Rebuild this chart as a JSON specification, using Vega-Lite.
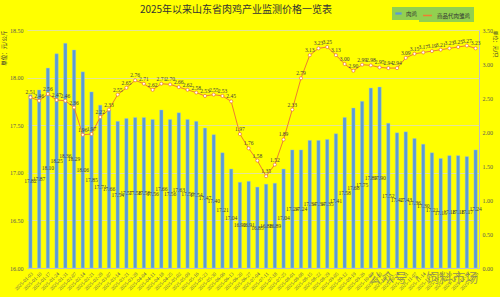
{
  "$schema": "https://vega.github.io/schema/vega-lite/v6.json",
  "width": 452,
  "height": 238,
  "autosize": {"type": "none"},
  "padding": {"left": 27, "top": 30, "right": 21, "bottom": 29},
  "background": "#FFFF00",
  "title": {"text": "2025年以来山东省肉鸡产业监测价格一览表", "font": "Noto Sans CJK SC", "fontSize": 10, "fontWeight": "normal", "color": "#333333", "anchor": "middle", "dx": -17, "offset": -8},
  "config": {"view": {"stroke": null}, "font": "Liberation Serif"},
  "data": {"values": [
    {"d": "2025-01-03", "m": 17.82, "c": 2.51},
    {"d": "2025-01-10", "m": 17.87, "c": 2.46},
    {"d": "2025-01-17", "m": 18.10, "c": 2.56},
    {"d": "2025-01-24", "m": 18.25, "c": 2.47},
    {"d": "2025-01-31", "m": 18.36, "c": 2.46},
    {"d": "2025-02-07", "m": 18.29, "c": 2.36},
    {"d": "2025-02-14", "m": 18.06, "c": 1.96},
    {"d": "2025-02-21", "m": 17.85, "c": 1.97},
    {"d": "2025-02-28", "m": 17.71, "c": 2.22},
    {"d": "2025-03-07", "m": 17.66, "c": 2.33},
    {"d": "2025-03-14", "m": 17.54, "c": 2.55},
    {"d": "2025-03-21", "m": 17.57, "c": 2.65},
    {"d": "2025-03-28", "m": 17.58, "c": 2.76},
    {"d": "2025-04-04", "m": 17.58, "c": 2.71},
    {"d": "2025-04-11", "m": 17.56, "c": 2.62},
    {"d": "2025-04-18", "m": 17.66, "c": 2.71},
    {"d": "2025-04-25", "m": 17.56, "c": 2.70},
    {"d": "2025-05-02", "m": 17.63, "c": 2.66},
    {"d": "2025-05-09", "m": 17.56, "c": 2.62},
    {"d": "2025-05-16", "m": 17.54, "c": 2.58},
    {"d": "2025-05-23", "m": 17.47, "c": 2.53},
    {"d": "2025-05-30", "m": 17.40, "c": 2.55},
    {"d": "2025-06-06", "m": 17.21, "c": 2.53},
    {"d": "2025-06-13", "m": 17.04, "c": 2.45},
    {"d": "2025-06-20", "m": 16.90, "c": 1.97},
    {"d": "2025-06-27", "m": 16.91, "c": 1.76},
    {"d": "2025-07-04", "m": 16.85, "c": 1.58},
    {"d": "2025-07-11", "m": 16.88, "c": 1.35},
    {"d": "2025-07-18", "m": 16.89, "c": 1.52},
    {"d": "2025-07-25", "m": 17.04, "c": 1.89},
    {"d": "2025-08-01", "m": 17.24, "c": 2.33},
    {"d": "2025-08-08", "m": 17.24, "c": 2.79},
    {"d": "2025-08-15", "m": 17.34, "c": 3.13},
    {"d": "2025-08-22", "m": 17.34, "c": 3.23},
    {"d": "2025-08-29", "m": 17.35, "c": 3.25},
    {"d": "2025-09-05", "m": 17.41, "c": 3.13},
    {"d": "2025-09-12", "m": 17.58, "c": 3.00},
    {"d": "2025-09-19", "m": 17.68, "c": 2.90},
    {"d": "2025-09-26", "m": 17.75, "c": 2.99},
    {"d": "2025-10-03", "m": 17.89, "c": 2.98},
    {"d": "2025-10-10", "m": 17.90, "c": 2.95},
    {"d": "2025-10-17", "m": 17.52, "c": 2.94},
    {"d": "2025-10-24", "m": 17.42, "c": 2.94},
    {"d": "2025-10-31", "m": 17.43, "c": 3.09},
    {"d": "2025-11-07", "m": 17.36, "c": 3.15},
    {"d": "2025-11-14", "m": 17.30, "c": 3.17},
    {"d": "2025-11-21", "m": 17.21, "c": 3.19},
    {"d": "2025-11-28", "m": 17.15, "c": 3.21},
    {"d": "2025-12-05", "m": 17.18, "c": 3.23},
    {"d": "2025-12-12", "m": 17.18, "c": 3.25},
    {"d": "2025-12-19", "m": 17.17, "c": 3.27},
    {"d": "2025-12-26", "m": 17.24, "c": 3.23}
  ]},
  "encoding": {
    "x": {"field": "d", "type": "ordinal", "sort": null, "title": null,
      "scale": {"paddingInner": 0.62, "paddingOuter": 0.2},
      "axis": {"labelAngle": -45, "labelFontSize": 5, "labelColor": "#595959", "ticks": false, "domainColor": "#BFBFBF", "labelPadding": 3}}
  },
  "layer": [
    {
      "mark": {"type": "bar", "stroke": "#9DC3E6", "strokeWidth": 0.4},
      "encoding": {
        "y": {"field": "m", "type": "quantitative", "title": "单位：元/公斤",
          "scale": {"domain": [16, 18.5], "zero": false, "nice": false},
          "axis": {"values": [16, 16.5, 17, 17.5, 18, 18.5], "format": ".2f", "labelFontSize": 6, "labelColor": "#595959", "ticks": false, "domain": false, "gridColor": "#D9D9D9", "gridWidth": 0.7, "labelPadding": 4,
            "titleFont": "Noto Sans CJK SC", "titleFontSize": 5.5, "titleFontWeight": "normal", "titleColor": "#333333", "titleAnchor": "end", "titlePadding": 3}},
        "y2": {"datum": 16},
        "fill": {"datum": "肉鸡", "type": "nominal", "scale": {"range": ["#5B9BD5"]},
          "legend": {"orient": "none", "legendX": 365, "legendY": -23, "direction": "horizontal", "title": null, "fillColor": "#92D050", "padding": 3, "symbolType": "M-1,-0.35H1V0.35H-1Z", "symbolSize": 40, "symbolStrokeWidth": 0, "labelFontSize": 5.5, "labelFont": "Noto Sans CJK SC", "labelColor": "#333333"}}
      }
    },
    {
      "mark": {"type": "text", "fontSize": 5.5, "color": "#404040"},
      "encoding": {
        "y": {"field": "m", "type": "quantitative", "scale": {"domain": [16, 21], "zero": false, "nice": false}, "axis": null},
        "text": {"field": "m", "type": "quantitative", "format": ".2f"}
      }
    },
    {
      "mark": {"type": "line", "strokeWidth": 1, "point": {"filled": true, "fill": "white", "stroke": "#ED7D31", "strokeWidth": 0.8, "size": 10}},
      "encoding": {
        "y": {"field": "c", "type": "quantitative", "title": "单位：元/只",
          "scale": {"domain": [0, 3.5], "nice": false},
          "axis": {"orient": "right", "values": [0, 0.5, 1, 1.5, 2, 2.5, 3, 3.5], "format": ".2f", "labelFontSize": 6, "labelColor": "#595959", "ticks": false, "domainColor": "#BFBFBF", "grid": false, "labelPadding": 3,
            "titleFont": "Noto Sans CJK SC", "titleFontSize": 5, "titleFontWeight": "normal", "titleColor": "#333333", "titleAnchor": "end", "titleAlign": "left", "titleAngle": 90, "titlePadding": 0}},
        "stroke": {"datum": "商品代肉雏鸡", "type": "nominal", "scale": {"range": ["#ED7D31"]},
          "legend": {"orient": "none", "legendX": 392, "legendY": -23, "direction": "horizontal", "title": null, "fillColor": "#92D050", "padding": 3, "symbolType": "stroke", "symbolSize": 80, "symbolStrokeWidth": 1.5, "labelFontSize": 5.5, "labelFont": "Noto Sans CJK SC", "labelColor": "#333333"}}
      }
    },
    {
      "mark": {"type": "text", "fontSize": 5.5, "color": "#404040", "baseline": "bottom", "dy": -2},
      "encoding": {
        "y": {"field": "c", "type": "quantitative", "scale": {"domain": [0, 3.5], "nice": false}, "axis": null},
        "text": {"field": "c", "type": "quantitative", "format": ".2f"}
      }
    },
    {
      "data": {"values": [{"d": "2025-11-14", "v": 15.9, "t": "公众号 · 饲料市场"}]},
      "mark": {"type": "text", "fontSize": 13, "font": "Noto Sans CJK SC", "color": "#707070", "opacity": 0.65},
      "encoding": {
        "y": {"field": "v", "type": "quantitative", "scale": {"domain": [16, 18.5], "zero": false, "nice": false}, "axis": null},
        "text": {"field": "t"}
      }
    }
  ],
  "resolve": {"scale": {"y": "independent", "fill": "independent", "stroke": "independent"}}
}
